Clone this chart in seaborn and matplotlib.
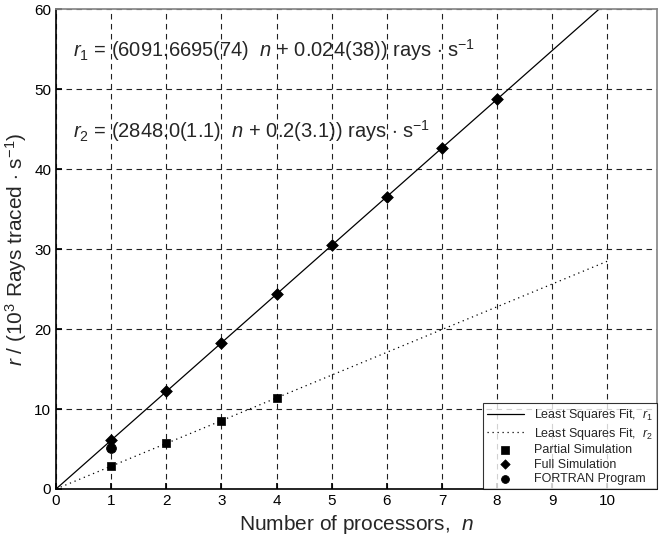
import matplotlib
matplotlib.use("Agg")
import matplotlib.pyplot as plt
import seaborn as sns
import numpy as np

# data
n_full = [1, 2, 3, 4, 5, 6, 7, 8]
r_full = [6.1, 12.2, 18.3, 24.4, 30.5, 36.5, 42.6, 48.7]
n_partial = [1, 2, 3, 4]
r_partial = [2.85, 5.7, 8.5, 11.4]
n_fortran = [1]
r_fortran = [5.1]
fit1_slope, fit1_icpt = 6.0916695, 0.000024
fit2_slope, fit2_icpt = 2.848, 0.0002
fit_n = [0, 10]

sns.set_theme(style="white")
plt.rcParams['font.family'] = ['Liberation Sans', 'DejaVu Sans']
plt.rcParams['mathtext.fontset'] = 'custom'
plt.rcParams['mathtext.rm'] = 'Liberation Sans'
plt.rcParams['mathtext.it'] = 'Liberation Sans:italic'

fig = plt.figure(figsize=(6.59, 5.35), dpi=100)
ax = fig.add_axes([0.085, 0.086, 0.912, 0.897])

fit_x = np.array(fit_n, dtype=float)
ax.plot(fit_x, fit1_slope * fit_x + fit1_icpt, color='black', lw=0.9, ls='-',
        label=r'Least Squares Fit,  $r_1$')
ax.plot(fit_x, fit2_slope * fit_x + fit2_icpt, color='black', lw=0.9, ls=(0, (1, 3)),
        label=r'Least Squares Fit,  $r_2$')

sns.scatterplot(x=n_partial, y=r_partial, marker='s', color='black', s=40,
                edgecolor='black', ax=ax, label='Partial Simulation', zorder=5)
sns.scatterplot(x=n_full, y=r_full, marker='D', color='black', s=36,
                edgecolor='black', ax=ax, label='Full Simulation', zorder=5)
sns.scatterplot(x=n_fortran, y=r_fortran, marker='o', color='black', s=50,
                edgecolor='black', ax=ax, label='FORTRAN Program', zorder=5)

ax.set_xlim(0, 10.9)
ax.set_ylim(0, 60)
ax.set_xticks(range(0, 11))
ax.set_yticks(range(0, 61, 10))
ax.grid(True, color='#222222', ls=(0, (5, 4)), lw=0.8)
ax.set_axisbelow(True)
for side in ['top', 'right']:
    ax.spines[side].set_color('#888888')
for side in ['left', 'bottom']:
    ax.spines[side].set_color('black')
    ax.spines[side].set_linewidth(1.2)
ax.tick_params(axis='both', labelsize=11, direction='in', length=4,
               left=True, bottom=True, colors='black')

ax.set_xlabel(r'Number of processors,  $n$', fontsize=15)
ax.set_ylabel(r'$r$ / (10$^3$ Rays traced $\cdot$ s$^{-1}$)', fontsize=15)

ax.text(0.3, 54.9, r'$r_1$ = (6091.6695(74)  $n$ + 0.024(38)) rays $\cdot$ s$^{-1}$',
        fontsize=14.5, va='center', ha='left')
ax.text(0.3, 44.8, r'$r_2$ = (2848.0(1.1)  $n$ + 0.2(3.1)) rays $\cdot$ s$^{-1}$',
        fontsize=14.5, va='center', ha='left')

leg = ax.legend(loc='lower right', fontsize=9, frameon=True, fancybox=False,
                edgecolor='black', borderaxespad=0.0, handlelength=3,
                labelspacing=0.2, borderpad=0.3, markerscale=0.8)
leg.get_frame().set_linewidth(0.8)

fig.savefig('out.png', dpi=100)
